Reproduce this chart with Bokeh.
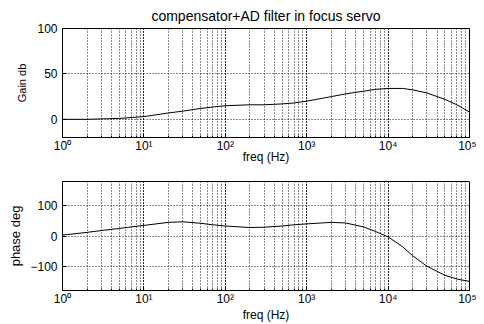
from bokeh.plotting import figure
from bokeh.layouts import column
from bokeh.models import FixedTicker, LogTicker
from bokeh.embed import file_html
from bokeh.resources import INLINE

freq = [1, 2, 3, 5, 7, 10, 20, 30, 50, 70, 100, 200, 300, 500, 700, 1000, 2000, 3000, 5000, 7000,
        10000, 15000, 20000, 30000, 50000, 70000, 100000]
gain_db = [0, 0, 0.5, 1, 2, 3, 7, 9, 12, 13.5, 15, 16, 16, 17, 18, 20, 25, 28, 31, 33,
           34, 34, 32.5, 29, 22, 16, 8]
phase_deg = [3, 12, 18, 25, 30, 35, 45, 47, 42, 37, 33, 28, 29, 33, 37, 40, 45, 43, 30, 15,
             -3, -35, -65, -100, -130, -142, -150]

decade_labels = {1: "10⁰", 10: "10¹", 100: "10²", 1000: "10³", 10000: "10⁴", 100000: "10⁵"}
gain_ticks = [0, 50, 100]
phase_ticks = [-100, 0, 100]

FONT = "Liberation Sans"


def make_fig(height, ylab, ylab_size, ylab_standoff, yrange, yticks, top, bottom, xlab_standoff, title=None):
    p = figure(width=476, height=height, x_axis_type="log", x_range=(1, 1e5), y_range=yrange,
               output_backend="svg", toolbar_location=None, title=title,
               min_border_left=62, min_border_right=7, min_border_top=top, min_border_bottom=bottom)
    p.outline_line_color = "black"
    p.outline_line_width = 1
    p.outline_line_alpha = 1
    p.background_fill_color = "white"
    p.border_fill_color = "white"
    p.xaxis.ticker = LogTicker(num_minor_ticks=10)
    p.yaxis.ticker = FixedTicker(ticks=yticks, minor_ticks=[])
    p.xaxis.major_label_overrides = decade_labels
    for ax in (p.xaxis, p.yaxis):
        ax.axis_line_color = None
        ax.major_tick_in = 4
        ax.major_tick_out = 0
        ax.minor_tick_in = 2
        ax.minor_tick_out = 0
        ax.major_tick_line_color = "black"
        ax.minor_tick_line_color = "black"
        ax.major_label_text_font = FONT
        ax.major_label_text_color = "black"
        ax.axis_label_text_font = FONT
        ax.axis_label_text_font_style = "normal"
        ax.axis_label_text_color = "black"
    p.xaxis.major_label_text_font_size = "12px"
    p.yaxis.major_label_text_font_size = "12px"
    p.xaxis.axis_label_text_font_size = "12px"
    p.yaxis.axis_label_text_font_size = ylab_size
    p.xaxis.major_label_standoff = 1
    p.xaxis.axis_label_standoff = xlab_standoff
    p.yaxis.major_label_standoff = 5
    p.yaxis.axis_label_standoff = ylab_standoff
    p.xaxis.axis_label = "freq (Hz)"
    p.yaxis.axis_label = ylab
    for g in (p.xgrid, p.ygrid):
        g.grid_line_color = "black"
        g.grid_line_dash = "1 2"
        g.grid_line_width = 1
        g.grid_line_alpha = 0.9
    p.xgrid.minor_grid_line_color = "black"
    p.xgrid.minor_grid_line_dash = "1 2"
    p.xgrid.minor_grid_line_alpha = 0.9
    if title is not None:
        p.title.align = "center"
        p.title.text_font = FONT
        p.title.text_font_style = "normal"
        p.title.text_font_size = "14px"
        p.title.text_color = "black"
    return p


p1 = make_fig(167, "Gain db", "11px", 6, (-20, 100), gain_ticks, 28, 30, -6,
              title="compensator+AD filter in focus servo")
p1.line(freq, gain_db, line_color="black", line_width=1)

p2 = make_fig(157, "phase deg", "13px", 4, (-180, 180), phase_ticks, 14, 34, -1)
p2.line(freq, phase_deg, line_color="black", line_width=1)

layout = column(p1, p2, spacing=0)
open("out.html", "w").write(file_html(layout, INLINE))
